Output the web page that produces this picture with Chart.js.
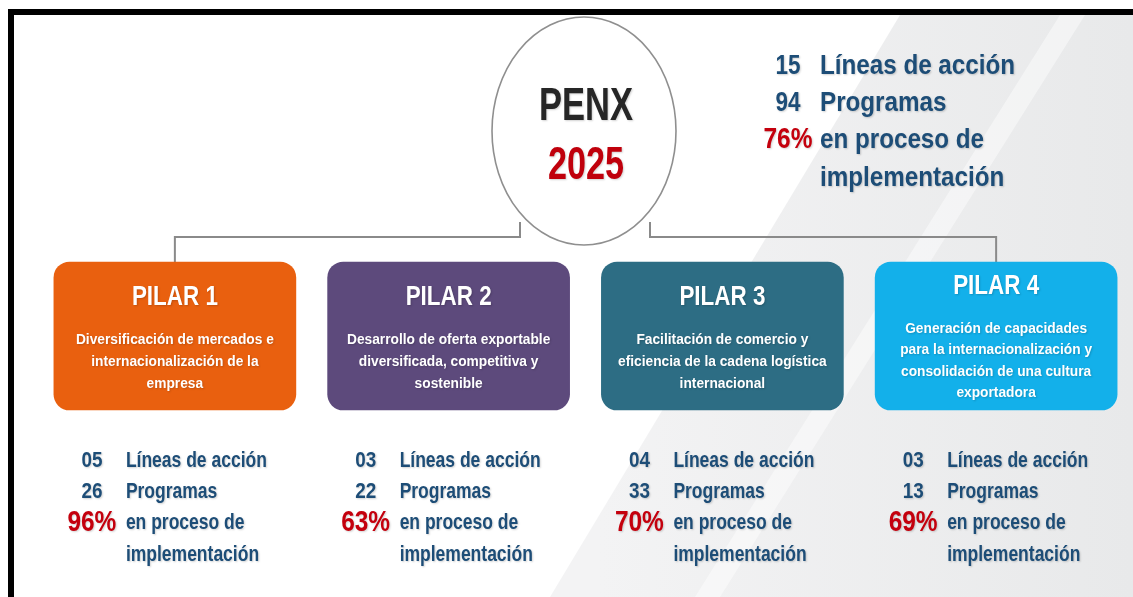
<!DOCTYPE html>
<html>
<head>
<meta charset="utf-8">
<script src="https://cdn.jsdelivr.net/npm/chart.js@4.4.1/dist/chart.umd.min.js"></script>
<style>
html,body{margin:0;padding:0;background:#fff;}
#wrap{position:relative;width:1133px;height:597px;}
</style>
</head>
<body>
<div id="wrap"><canvas id="c"></canvas></div>
<script>
// ---- data ----
const pilares = ['PILAR 1', 'PILAR 2', 'PILAR 3', 'PILAR 4'];
const descripciones = [
  ['Diversificación de mercados e', 'internacionalización de la', 'empresa'],
  ['Desarrollo de oferta exportable', 'diversificada, competitiva y', 'sostenible'],
  ['Facilitación de comercio y', 'eficiencia de la cadena logística', 'internacional'],
  ['Generación de capacidades', 'para la internacionalización y', 'consolidación de una cultura', 'exportadora']
];
const lineasAccion = ['05', '03', '04', '03'];
const programas = ['26', '22', '33', '13'];
const implementacion = ['96%', '63%', '70%', '69%'];
const coloresPilar = ['#e9600f', '#5d4a7c', '#2d6d84', '#13b0ea'];
const totalTitulo = ['PENX', '2025'];
const totalLineas = '15';
const totalProgramas = '94';
const totalImplementacion = '76%';
const etiquetas = ['Líneas de acción', 'Programas', 'en proceso de', 'implementación'];

// ---- layout ----
const BOX_TOP = 262, BOX_BOTTOM = 410;
const F = "'Liberation Sans', Arial, sans-serif";
const BLUE = '#1d4d77', RED = '#c4000d';

// horizontal condensation factor so that sample text reaches a target width
function fit(ctx, sample, size, target) {
  ctx.save();
  ctx.font = 'bold ' + size + 'px ' + F;
  const w = ctx.measureText(sample).width;
  ctx.restore();
  return target / w;
}

function txt(ctx, s, x, y, size, color, align, sx, shadow) {
  ctx.save();
  ctx.font = 'bold ' + size + 'px ' + F;
  ctx.fillStyle = color;
  ctx.textAlign = align || 'center';
  ctx.textBaseline = 'middle';
  if (shadow) {
    ctx.shadowColor = 'rgba(0,0,0,0.18)';
    ctx.shadowBlur = 2;
    ctx.shadowOffsetX = 1;
    ctx.shadowOffsetY = 1;
  }
  ctx.translate(x, y);
  ctx.scale(sx || 1, 1);
  ctx.fillText(s, 0, 0);
  ctx.restore();
}

const infographic = {
  id: 'infographic',
  beforeDraw(chart) {
    const ctx = chart.ctx;
    const W = chart.width, H = chart.height;
    const xs = chart.scales.x, ys = chart.scales.y;
    ctx.save();
    ctx.fillStyle = '#ffffff';
    ctx.fillRect(0, 0, W, H);
    // soft grey diagonal background
    let g = ctx.createLinearGradient(600, 0, 1133, 0);
    g.addColorStop(0, '#f3f3f4');
    g.addColorStop(1, '#e8e9ea');
    ctx.fillStyle = g;
    ctx.beginPath();
    ctx.moveTo(900, 15); ctx.lineTo(W, 15); ctx.lineTo(W, H); ctx.lineTo(550, H); ctx.closePath();
    ctx.fill();
    ctx.fillStyle = 'rgba(255,255,255,0.45)';
    ctx.beginPath();
    ctx.moveTo(1060, 15); ctx.lineTo(1085, 15); ctx.lineTo(720, H); ctx.lineTo(695, H); ctx.closePath();
    ctx.fill();
    // frame
    ctx.fillStyle = '#000';
    ctx.fillRect(8, 9, W - 8, 6);
    ctx.fillRect(8, 9, 6, H - 9);
    // connectors
    const x1 = xs.getPixelForValue(0), x4 = xs.getPixelForValue(3);
    const yLine = ys.getPixelForValue(237), yTop = ys.getPixelForValue(BOX_TOP);
    ctx.strokeStyle = '#8a8a8a';
    ctx.lineWidth = 2;
    ctx.beginPath();
    ctx.moveTo(x1, yTop); ctx.lineTo(x1, yLine); ctx.lineTo(520, yLine); ctx.lineTo(520, 222);
    ctx.moveTo(650, 222); ctx.lineTo(650, yLine); ctx.lineTo(x4, yLine); ctx.lineTo(x4, yTop);
    ctx.stroke();
    // ellipse
    ctx.beginPath();
    ctx.ellipse(584, 131, 92, 114, 0, 0, Math.PI * 2);
    ctx.fillStyle = '#ffffff';
    ctx.fill();
    ctx.strokeStyle = '#8f8f8f';
    ctx.lineWidth = 1.6;
    ctx.stroke();
    ctx.restore();
  },
  afterDatasetsDraw(chart) {
    const ctx = chart.ctx;
    const xs = chart.scales.x;
    // condensation factors
    const sPenx = fit(ctx, 'PENX', 47, 94);
    const sYear = fit(ctx, '2025', 46, 76);
    const sTopLbl = fit(ctx, 'Líneas de acción', 28, 195);
    const sTopNum = fit(ctx, '15', 28, 25);
    const sTopPct = fit(ctx, '76%', 29, 49);
    const sTitle = fit(ctx, 'PILAR 1', 28, 86);
    const sDesc = fit(ctx, 'Diversificación de mercados e', 14, 198);
    const sLbl = fit(ctx, 'Líneas de acción', 22, 141);
    const sNum = fit(ctx, '05', 22, 21);
    const sPct = fit(ctx, '96%', 29, 49);

    // center title
    txt(ctx, totalTitulo[0], 586, 107, 47, '#262626', 'center', sPenx, true);
    txt(ctx, totalTitulo[1], 586, 166, 46, '#c0000c', 'center', sYear, true);
    // totals top right
    const tx = 788, lx = 820;
    const rowsT = [66, 103, 140, 178];
    txt(ctx, totalLineas, tx, rowsT[0], 28, BLUE, 'center', sTopNum, true);
    txt(ctx, totalProgramas, tx, rowsT[1], 28, BLUE, 'center', sTopNum, true);
    txt(ctx, totalImplementacion, tx, rowsT[2], 29, RED, 'center', sTopPct, true);
    etiquetas.forEach((e, i) => txt(ctx, e, lx, rowsT[i], 28, BLUE, 'left', sTopLbl, true));
    // pillars
    pilares.forEach((p, i) => {
      const cx = xs.getPixelForValue(i);
      const lines = descripciones[i];
      const four = lines.length > 3;
      txt(ctx, p, cx, four ? 286 : 297, 28, '#ffffff', 'center', sTitle, true);
      const y0 = four ? 329 : 340;
      const step = four ? 21.5 : 22;
      lines.forEach((l, j) => txt(ctx, l, cx, y0 + j * step, 14, '#ffffff', 'center', sDesc, true));
      const nx = cx - 83, ex = cx - 49;
      const rows = [461, 492, 523, 555];
      txt(ctx, lineasAccion[i], nx, rows[0], 22, BLUE, 'center', sNum, true);
      txt(ctx, programas[i], nx, rows[1], 22, BLUE, 'center', sNum, true);
      txt(ctx, implementacion[i], nx, rows[2], 29, RED, 'center', sPct, true);
      etiquetas.forEach((e, j) => txt(ctx, e, ex, rows[j], 22, BLUE, 'left', sLbl, true));
    });
  }
};

new Chart(document.getElementById('c'), {
  type: 'bar',
  data: {
    labels: pilares,
    datasets: [{
      data: pilares.map(() => [BOX_TOP, BOX_BOTTOM]),
      backgroundColor: coloresPilar,
      borderRadius: 16,
      borderSkipped: false,
      barThickness: 242
    }]
  },
  options: {
    responsive: true,
    maintainAspectRatio: false,
    animation: false,
    layout: { padding: { left: 38, right: 0, top: 0, bottom: 0 } },
    plugins: { legend: { display: false }, tooltip: { enabled: false } },
    scales: {
      x: { type: 'category', offset: true, display: false },
      y: { type: 'linear', min: 0, max: 597, reverse: true, display: false }
    }
  },
  plugins: [infographic]
});
</script>
</body>
</html>
